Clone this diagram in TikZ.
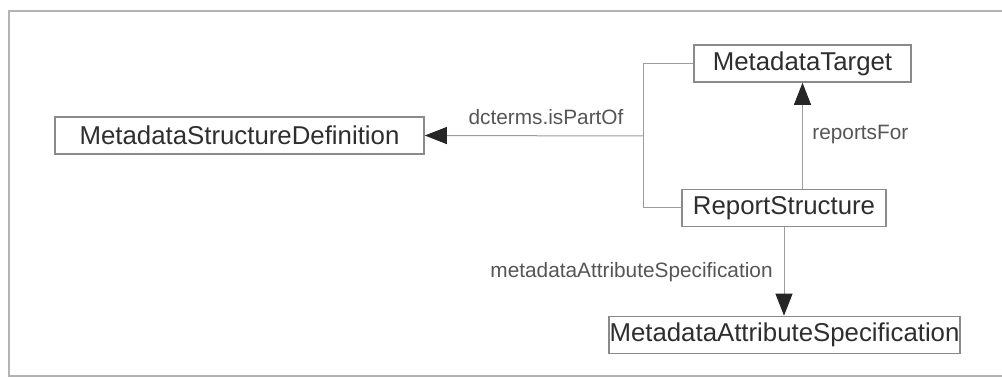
\documentclass[tikz,border=0pt]{standalone}
\usepackage{fontspec}
\setmainfont{Liberation Sans}
\usetikzlibrary{arrows.meta}
\definecolor{boxline}{HTML}{8A8A8A}
\definecolor{connline}{HTML}{9C9C9C}
\definecolor{boxtext}{HTML}{2E2E2E}
\definecolor{labeltext}{HTML}{555555}
\definecolor{framecol}{HTML}{B4B4B4}
\tikzset{
  classbox/.style={draw=boxline, line width=0.8pt, fill=white, text=boxtext,
    minimum height=18.5pt, inner sep=0pt, font=\fontsize{12.9}{15}\selectfont},
  conn/.style={draw=connline, line width=0.5pt},
  assoc/.style={conn, -{Triangle[length=11pt, width=8.5pt, fill=black!85, color=black!85]}},
  rolelabel/.style={text=labeltext, inner sep=0pt, font=\fontsize{10.4}{12}\selectfont}
}
\begin{document}
\begin{tikzpicture}[x=0.5pt,y=-0.5pt]
\useasboundingbox (0,0) rectangle (1002,378);

\draw[framecol, line width=0.75pt] (1002,11) -- (9,11) -- (9,376) -- (1002,376);

\node [classbox, minimum width=184.5pt] (msd) at (239.5,135.5) {MetadataStructureDefinition};
\node [classbox, minimum width=108.5pt] (target) at (802.5,63.5) {MetadataTarget};
\node [classbox, minimum width=102pt] (report) at (784,208) {ReportStructure};
\node [classbox, minimum width=175.5pt] (attrspec) at (784.5,335) {MetadataAttributeSpecification};

\coordinate (top) at (643,63.5);
\coordinate (bottom) at (643,208);
\coordinate (join) at (643,136);

\draw[conn] (target.west) -- (top) -- (bottom) -- (report.west);
\draw[assoc] (join) -- (msd.east);
\draw[assoc] (report.north -| target.south) -- (target.south);
\draw[assoc] (report.south) -- (report.south |- attrspec.north);

\node [rolelabel] (partof) at (546,117) {dcterms.isPartOf};
\node [rolelabel, anchor=west] (reports) at (812,135) {reportsFor};
\node [rolelabel, anchor=east] (attrlabel) at (773,272) {metadataAttributeSpecification};
\end{tikzpicture}
\end{document}
